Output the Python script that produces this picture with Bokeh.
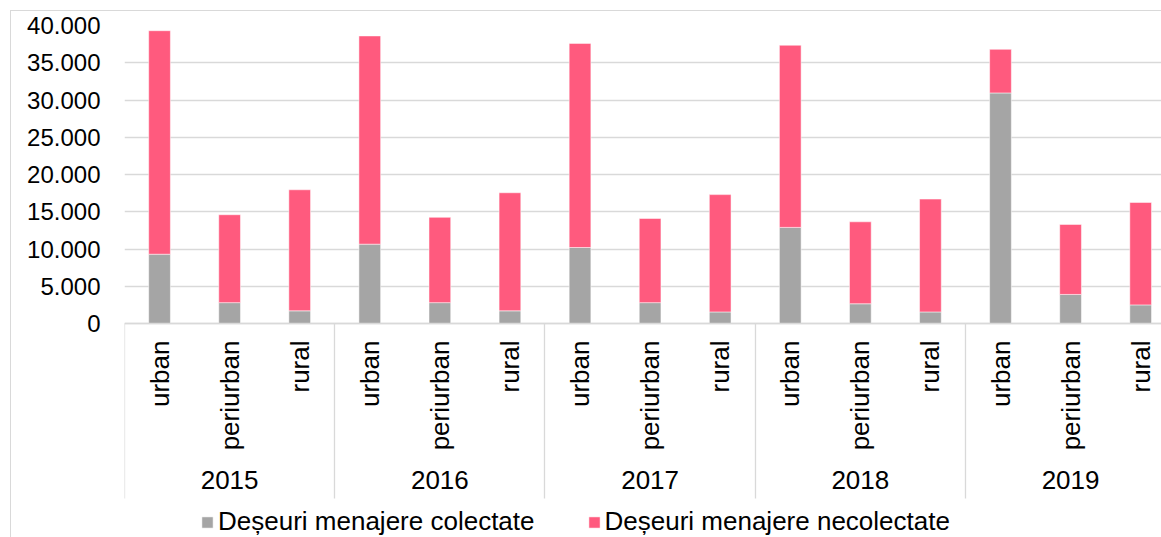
import math
from bokeh.plotting import figure
from bokeh.layouts import column
from bokeh.models import Range1d, FixedTicker, LinearAxis, Legend, LegendItem, ColumnDataSource
from bokeh.embed import file_html
from bokeh.resources import INLINE

# ---- data ----
years = ["2015", "2016", "2017", "2018", "2019"]
zones = ["urban", "periurban", "rural"]
series_names = ["Deșeuri menajere colectate", "Deșeuri menajere necolectate"]
colectate = [9300, 2800, 1700, 10650, 2800, 1700, 10200, 2800, 1550, 12900, 2650, 1550, 30950, 3900, 2500]
necolectate = [30000, 11800, 16250, 27950, 11450, 15850, 27400, 11300, 15750, 24450, 11000, 15150, 5850, 9400, 13750]
y_ticks = [0, 5000, 10000, 15000, 20000, 25000, 30000, 35000, 40000]
y_tick_labels = ["0", "5.000", "10.000", "15.000", "20.000", "25.000", "30.000", "35.000", "40.000"]

FONT = "Liberation Sans"
FS_Y = "24px"
FS = "26px"
GRID = "#d9d9d9"

# pixel geometry of the value area: 0 -> 298 px -> 40000; category block of 214 px below zero
UPP = 40000 / 298.0          # data units per pixel
def below_px(px):
    return -px * UPP

n = len(years) * len(zones)
xs = list(range(n))
totals = [a + b for a, b in zip(colectate, necolectate)]
src = ColumnDataSource(dict(x=xs, col=colectate, tot=totals))

p = figure(width=1150, height=526, output_backend="svg", toolbar_location=None,
           x_range=Range1d(-0.5, -0.5 + 1037 / 70.08),
           y_range=Range1d(below_px(214), 40000),
           min_border_left=113, min_border_right=0, min_border_top=14, min_border_bottom=0,
           x_axis_location=None)
p.outline_line_color = None
p.background_fill_color = "white"
p.border_fill_color = "white"

r1 = p.vbar(x="x", bottom=0, top="col", width=0.31, source=src,
            fill_color="#A5A5A5", line_color="#ffffff", line_alpha=0.5, line_width=1)
r2 = p.vbar(x="x", bottom="col", top="tot", width=0.31, source=src,
            fill_color="#FF5A7E", line_color="#ffffff", line_alpha=0.5, line_width=1)

# y axis & grid
p.yaxis.ticker = FixedTicker(ticks=y_ticks)
p.yaxis.major_label_overrides = {t: l for t, l in zip(y_ticks, y_tick_labels)}
p.yaxis.axis_line_color = None
p.yaxis.major_tick_out = 0
p.yaxis.major_tick_in = 0
p.yaxis.minor_tick_out = 0
p.yaxis.minor_tick_in = 0
p.yaxis.major_label_standoff = 24
p.yaxis.major_label_text_font = FONT
p.yaxis.major_label_text_font_size = FS_Y
p.yaxis.major_label_text_color = "#000000"
p.ygrid.ticker = FixedTicker(ticks=y_ticks)
p.ygrid.grid_line_color = GRID
p.ygrid.grid_line_width = 1.3
p.xgrid.grid_line_color = None

# sub-category axis (at value 0)
ax1 = LinearAxis(ticker=FixedTicker(ticks=xs), fixed_location=0,
                 major_label_overrides={i: zones[i % len(zones)] for i in xs},
                 major_label_orientation=math.pi / 2,
                 major_tick_out=0, major_tick_in=0, minor_tick_out=0, minor_tick_in=0,
                 major_label_standoff=17, axis_line_color=GRID, axis_line_width=1.3,
                 major_label_text_font=FONT, major_label_text_font_size=FS,
                 major_label_text_color="#000000")
p.add_layout(ax1, "below")

# year axis
year_pos = [1 + 3 * k for k in range(len(years))]
sep_pos = [-0.5 + 3 * k for k in range(len(years) + 1)]
ax2 = LinearAxis(ticker=FixedTicker(ticks=year_pos), fixed_location=below_px(147),
                 major_label_overrides={pp: y for pp, y in zip(year_pos, years)},
                 major_tick_out=0, major_tick_in=0, minor_tick_out=0, minor_tick_in=0,
                 major_label_standoff=0, axis_line_color=None,
                 major_label_text_font=FONT, major_label_text_font_size=FS,
                 major_label_text_color="#000000")
p.add_layout(ax2, "below")

# group separators
ax3 = LinearAxis(ticker=FixedTicker(ticks=[], minor_ticks=sep_pos), fixed_location=below_px(175),
                 major_tick_out=0, major_tick_in=0, minor_tick_out=0, minor_tick_in=175,
                 minor_tick_line_color=GRID, minor_tick_line_width=1.3,
                 major_label_standoff=0, axis_line_color=None,
                 major_label_text_font_size="0px")
p.add_layout(ax3, "below")

legend = Legend(items=[LegendItem(label=series_names[0], renderers=[r1]),
                       LegendItem(label=series_names[1], renderers=[r2])],
                orientation="horizontal", location=(76, 0),
                glyph_width=14, glyph_height=14, label_standoff=4, spacing=52,
                label_text_font=FONT, label_text_font_size=FS, label_text_color="#000000",
                padding=0, margin=0, border_line_color=None, background_fill_alpha=0)
p.add_layout(legend, "center")

layout = column(p, styles={"margin-left": "10px", "margin-top": "10px",
                           "border-left": "1px solid #d9d9d9", "border-top": "1px solid #d9d9d9"})

open("out.html", "w").write(file_html(layout, INLINE))
